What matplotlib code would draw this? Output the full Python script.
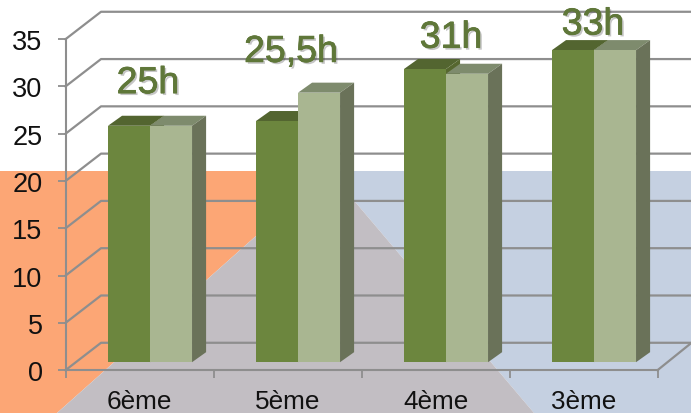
import matplotlib
matplotlib.use("Agg")
import matplotlib.pyplot as plt
import matplotlib.patheffects as pe
from matplotlib.patches import Polygon

plt.rcParams['font.family'] = ['Liberation Sans', 'DejaVu Sans']

categories = ['6ème', '5ème', '4ème', '3ème']
series_a = [25, 25.5, 31, 33]
series_b = [25, 28.5, 30.5, 33]
value_labels = ['25h', '25,5h', '31h', '33h']
label_x = [0.557, 1.524, 2.605, 3.564]
label_y = [29.3, 32.6, 34.1, 35.5]
y_ticks = [0, 5, 10, 15, 20, 25, 30, 35]

W, H = 691, 414
fig = plt.figure(figsize=(W / 100, H / 100), dpi=100, facecolor='white')

# Background shapes in pixel coordinates
bg = fig.add_axes([0, 0, 1, 1], zorder=0)
bg.set_xlim(0, W)
bg.set_ylim(H, 0)
bg.axis('off')
bg.add_patch(Polygon([(0, 172), (329, 172), (57, 414), (0, 414)], fc='#FCA675', ec='none'))
bg.add_patch(Polygon([(329, 172), (691, 172), (691, 414), (534, 414)], fc='#C5D0E1', ec='none'))
bg.add_patch(Polygon([(329, 172), (534, 414), (57, 414)], fc='#C2BEC3', ec='none'))

# Main axes: front plane of the 3D-style chart
ax = fig.add_axes([65.5 / W, (H - 371.2) / H, 592 / W, 331 / H], zorder=1)
ax.patch.set_alpha(0)
ax.set_xlim(0, 4)
ax.set_ylim(0, 35)
for s in ('top', 'right'):
    ax.spines[s].set_visible(False)
GRID = '#8E8E8E'
for s in ('left', 'bottom'):
    ax.spines[s].set_color(GRID)
    ax.spines[s].set_linewidth(1.5)
ax.set_yticks(y_ticks)
ax.set_xticks(range(5))
ax.set_xticklabels([])
ax.set_xticks([i + 0.5 for i in range(4)], minor=True)
ax.set_xticklabels(categories, minor=True, fontsize=18.8, color='#111111')
ax.tick_params(axis='x', which='minor', length=0, pad=13.5)
ax.tick_params(axis='x', which='major', length=5.5, width=1.3, color=GRID)
ax.tick_params(axis='y', length=5.5, width=1.3, color=GRID, labelsize=19.5,
               labelcolor='#111111', pad=11)

# Wall and floor lines
wall_dx, wall_dy = 0.24, 2.9
right_edge = 4.23
for v in y_ticks:
    ax.plot([0, wall_dx, right_edge], [v, v + wall_dy, v + wall_dy],
            color=GRID, lw=1.6, clip_on=False, zorder=1, solid_joinstyle='round')
ax.plot([4, right_edge], [0, wall_dy], color=GRID, lw=1.6, clip_on=False, zorder=1)

# Bars
bar_w = 0.284
base = 0.846
dx, dy = 0.095, 1.06
center = 0.571


def draw_bar(x, v, front, side, top, z):
    y0, y1 = base, base + v
    ax.add_patch(Polygon([(x, y1), (x + bar_w, y1), (x + bar_w + dx, y1 + dy), (x + dx, y1 + dy)],
                         fc=top, ec='none', zorder=z, clip_on=False))
    ax.add_patch(Polygon([(x + bar_w, y0), (x + bar_w + dx, y0 + dy), (x + bar_w + dx, y1 + dy), (x + bar_w, y1)],
                         fc=side, ec='none', zorder=z, clip_on=False))
    ax.bar(x, v, width=bar_w, bottom=base, align='edge', color=front, zorder=z + 0.1, clip_on=False)


for i, (a, b) in enumerate(zip(series_a, series_b)):
    draw_bar(i + center - bar_w, a, '#6C863E', '#56672F', '#536530', 3 + i)
    draw_bar(i + center, b, '#A9B691', '#6A7259', '#7E8B6D', 3.3 + i)

# Value labels
for x, y, s in zip(label_x, label_y, value_labels):
    t = ax.text(x, y, s, ha='center', va='baseline', fontsize=27, color='#5F7739',
                zorder=20, clip_on=False)
    t.set_path_effects([pe.withSimplePatchShadow(offset=(1.4, -1.4), alpha=0.3, shadow_rgbFace='#444444'),
                        pe.Stroke(linewidth=0.5, foreground='#5F7739'), pe.Normal()])

fig.savefig('out.png', dpi=100)
